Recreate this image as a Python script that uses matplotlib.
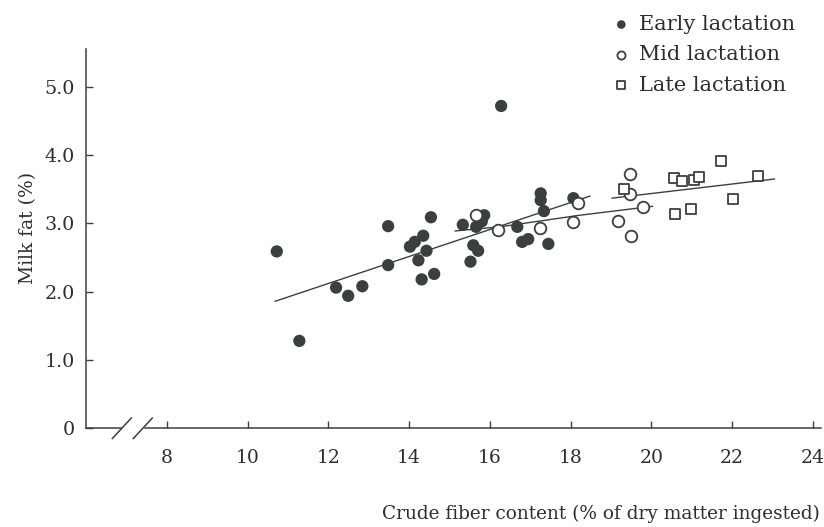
# Milk fat vs crude fiber content, by lactation stage

import numpy as np
import matplotlib
matplotlib.use('Agg')
import matplotlib.pyplot as plt

# --- data ---
early_x = [10.72, 11.28, 12.19, 12.49, 12.84, 13.48, 13.48, 14.54, 14.02, 14.14,
           14.35, 14.23, 14.43, 14.31, 14.62, 15.33, 15.66, 15.80, 15.86, 15.59,
           15.71, 15.52, 16.68, 16.80, 16.95, 17.45, 17.26, 17.26, 17.34, 18.07,
           16.28]
early_y = [2.59, 1.28, 2.06, 1.94, 2.08, 2.96, 2.39, 3.09, 2.66, 2.73,
           2.82, 2.46, 2.60, 2.18, 2.26, 2.98, 2.95, 3.03, 3.12, 2.68,
           2.60, 2.44, 2.95, 2.73, 2.77, 2.70, 3.44, 3.34, 3.18, 3.37,
           4.72]

mid_x = [15.66, 16.21, 17.24, 18.19, 18.05, 19.47, 19.47, 19.79, 19.17, 19.50]
mid_y = [3.13, 2.90, 2.94, 3.30, 3.02, 3.72, 3.43, 3.24, 3.04, 2.82]

late_x = [19.33, 20.57, 20.77, 21.06, 21.18, 21.73, 22.64, 22.03, 20.60, 20.98]
late_y = [3.50, 3.66, 3.62, 3.63, 3.68, 3.92, 3.70, 3.36, 3.14, 3.21]

# fitted lines as drawn
early_fit_x = [10.68, 18.48]
early_fit_y = [1.86, 3.40]
mid_fit_x = [15.14, 16.25, 18.23, 20.03]
mid_fit_y = [2.89, 2.95, 3.12, 3.25]
late_fit_x = [19.03, 23.05]
late_fit_y = [3.37, 3.65]

xticks = [8, 10, 12, 14, 16, 18, 20, 22, 24]
yticks = [0, 1, 2, 3, 4, 5]
ytick_labels = ['0', '1.0', '2.0', '3.0', '4.0', '5.0']

labels = ['Early lactation', 'Mid lactation', 'Late lactation']

# --- style ---
plt.rcParams['font.family'] = ['DejaVu Serif']
ink = '#3a403e'
txt = '#2e2e2e'

fig = plt.figure(figsize=(8.24, 5.27), dpi=100)
ax = fig.add_axes([0.1047, 0.1873, 0.8914, 0.7192])

ax.scatter(early_x, early_y, s=78, color=ink, edgecolors='none', zorder=3,
           label=labels[0])
ax.scatter(mid_x, mid_y, s=70, facecolors='white', edgecolors=ink,
           linewidths=1.3, zorder=3, label=labels[1])
ax.scatter(late_x, late_y, s=62, marker='s', facecolors='white', edgecolors=ink,
           linewidths=1.3, zorder=3, label=labels[2])

ax.plot(early_fit_x, early_fit_y, color=ink, lw=1.0, zorder=2)
ax.plot(mid_fit_x, mid_fit_y, color=ink, lw=1.0, zorder=2)
ax.plot(late_fit_x, late_fit_y, color=ink, lw=1.0, zorder=2)

ax.set_xlim(6.0, 24.2)
ax.set_ylim(0, 5.55)

ax.spines['top'].set_visible(False)
ax.spines['right'].set_visible(False)
ax.spines['bottom'].set_visible(False)
ax.spines['left'].set_color(ink)
ax.spines['left'].set_linewidth(1.1)

# broken x axis line with two slashes
ax.plot([6.0, 6.87], [0, 0], color=ink, lw=1.1, clip_on=False)
ax.plot([7.45, 24.2], [0, 0], color=ink, lw=1.1, clip_on=False)
for cx in (6.88, 7.40):
    ax.plot([cx - 0.235, cx + 0.235], [-0.15, 0.15], color=ink, lw=1.1,
            clip_on=False)

ax.set_xticks(xticks)
ax.set_yticks(yticks)
ax.set_yticklabels(ytick_labels)
ax.tick_params(axis='x', direction='in', length=5, width=1, color=ink,
               pad=15, labelsize=13.5, labelcolor=txt)
ax.tick_params(axis='y', direction='in', length=5, width=1, color=ink,
               pad=8, labelsize=13.8, labelcolor=txt)

ax.text(0.999, -0.226, 'Crude fiber content (% of dry matter ingested)',
        transform=ax.transAxes, ha='right', va='center', fontsize=13.3,
        color=txt)
ax.text(-0.0794, 0.5285, 'Milk fat (%)', transform=ax.transAxes,
        rotation=90, ha='center', va='center', fontsize=13.5, color=txt)

leg = ax.legend(loc='upper left', bbox_to_anchor=(613 / 824, 1 - 15 / 527),
                bbox_transform=fig.transFigure, frameon=False, fontsize=15,
                markerscale=0.7, handlelength=0.8, handletextpad=0.45,
                labelspacing=0.55, borderpad=0, borderaxespad=0)
for t in leg.get_texts():
    t.set_color(txt)

fig.savefig('out.png', dpi=100, facecolor='white')
